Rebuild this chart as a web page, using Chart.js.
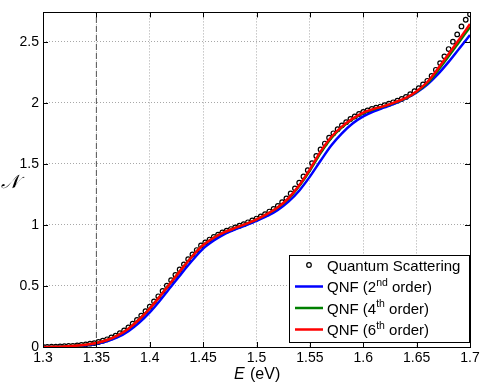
<!DOCTYPE html>
<html><head><meta charset="utf-8">
<script src="https://cdn.jsdelivr.net/npm/chart.js@4/dist/chart.umd.min.js"></script>
<style>html,body{margin:0;padding:0;background:#fff;overflow:hidden;}</style>
</head><body>
<canvas id="c" width="485" height="386"></canvas>
<script>
// Quantum scattering sample energies (eV) and values
const energyQS = [1.300,1.304,1.308,1.312,1.316,1.320,1.324,1.328,1.332,1.336,1.340,1.344,1.348,1.352,1.356,1.360,1.364,1.368,1.372,1.376,1.380,1.384,1.388,1.392,1.396,1.400,1.404,1.408,1.412,1.416,1.420,1.424,1.428,1.432,1.436,1.440,1.444,1.448,1.452,1.456,1.460,1.464,1.468,1.472,1.476,1.480,1.484,1.488,1.492,1.496,1.500,1.504,1.508,1.512,1.516,1.520,1.524,1.528,1.532,1.536,1.540,1.544,1.548,1.552,1.556,1.560,1.564,1.568,1.572,1.576,1.580,1.584,1.588,1.592,1.596,1.600,1.604,1.608,1.612,1.616,1.620,1.624,1.628,1.632,1.636,1.640,1.644,1.648,1.652,1.656,1.660,1.664,1.668,1.672,1.676,1.680,1.684,1.688,1.692,1.696,1.700];
const quantumScattering = [0.000,0.001,0.002,0.003,0.004,0.006,0.008,0.010,0.013,0.017,0.021,0.027,0.032,
0.041,0.051,0.063,0.078,0.093,0.114,0.136,0.161,0.191,0.221,0.257,0.293,
0.331,0.373,0.415,0.459,0.503,0.547,0.591,0.635,0.677,0.719,0.758,0.794,
0.831,0.856,0.880,0.902,0.920,0.938,0.952,0.966,0.980,0.993,1.006,1.021,1.036,
1.052,1.070,1.088,1.109,1.131,1.156,1.186,1.216,1.257,1.299,1.345,1.397,1.448,
1.506,1.564,1.618,1.666,1.714,1.750,1.784,1.815,1.841,1.867,1.888,1.908,
1.925,1.937,1.949,1.959,1.969,1.980,1.992,2.004,2.017,2.031,2.048,2.071,2.095,
2.120,2.150,2.180,2.220,2.270,2.325,2.380,2.440,2.500,2.560,2.625,2.680,2.725];

// QNF model energies (eV)
const energyQNF = [1.30,1.31,1.32,1.33,1.34,1.35,1.36,1.37,1.38,1.39,1.40,1.41,1.42,1.43,1.44,1.45,1.46,1.47,1.48,1.49,1.50,1.51,1.52,1.53,1.54,1.55,1.56,1.57,1.58,1.59,1.60,1.61,1.62,1.63,1.64,1.65,1.66,1.67,1.68,1.69,1.70];
const qnf2nd = [0.000,0.001,0.004,0.008,0.015,0.027,0.047,0.080,0.130,0.198,0.283,0.385,0.495,0.605,0.710,0.805,0.872,0.925,0.963,0.997,1.033,1.073,1.122,1.190,1.280,1.395,1.525,1.650,1.750,1.830,1.888,1.930,1.962,1.995,2.035,2.085,2.150,2.235,2.335,2.445,2.555];
const qnf4th = [0.000,0.002,0.005,0.010,0.019,0.033,0.057,0.095,0.150,0.225,0.315,0.420,0.530,0.640,0.745,0.835,0.895,0.940,0.975,1.008,1.045,1.090,1.143,1.215,1.318,1.445,1.588,1.710,1.798,1.865,1.915,1.947,1.973,2.003,2.037,2.090,2.160,2.265,2.380,2.500,2.620];
const qnf6th = [0.000,0.002,0.005,0.010,0.019,0.033,0.057,0.095,0.150,0.225,0.315,0.420,0.530,0.640,0.745,0.835,0.895,0.940,0.975,1.008,1.045,1.090,1.145,1.220,1.325,1.455,1.600,1.720,1.805,1.870,1.920,1.950,1.975,2.005,2.040,2.095,2.170,2.280,2.400,2.520,2.645];

// threshold marker
const thresholdE = [1.35, 1.35];
const thresholdN = [0, 2.74];

// axes
const xTicks = [1.3,1.35,1.4,1.45,1.5,1.55,1.6,1.65,1.7];
const xTickLabels = ["1.3","1.35","1.4","1.45","1.5","1.55","1.6","1.65","1.7"];
const yTicks = [0,0.5,1,1.5,2,2.5];
const yTickLabels = ["0","0.5","1","1.5","2","2.5"];
const xRange = [1.3, 1.7];
const yRange = [0, 2.74];

// legend texts: [main, superscript, rest]
const legendLabels = [
  ["Quantum Scattering", "", ""],
  ["QNF (2", "nd", " order)"],
  ["QNF (4", "th", " order)"],
  ["QNF (6", "th", " order)"]
];
const xTitle = ["E", "(eV)"];
const yTitle = "\u{1D4A9}";

const FONT = "'Liberation Sans', Arial, Helvetica, sans-serif";
const pts = (xs, ys) => xs.map((x, i) => ({x: x, y: ys[i]}));

const overlay = {
  id: 'overlay',
  afterDatasetsDraw(chart) {
    const ctx = chart.ctx, a = chart.chartArea;
    const xs = chart.scales.x, ys = chart.scales.y;
    ctx.save();
    // box
    ctx.strokeStyle = '#000'; ctx.lineWidth = 1; ctx.setLineDash([]);
    ctx.strokeRect(Math.round(a.left) + 0.5, Math.round(a.top) + 0.5, Math.round(a.right - a.left), Math.round(a.bottom - a.top));
    // inward ticks
    const tl = 5;
    ctx.beginPath();
    xTicks.forEach(v => {
      const px = Math.round(xs.getPixelForValue(v)) + 0.5;
      ctx.moveTo(px, a.bottom); ctx.lineTo(px, a.bottom - tl);
      ctx.moveTo(px, a.top); ctx.lineTo(px, a.top + tl);
    });
    yTicks.forEach(v => {
      const py = Math.round(ys.getPixelForValue(v)) + 0.5;
      ctx.moveTo(a.left, py); ctx.lineTo(a.left + tl, py);
      ctx.moveTo(a.right, py); ctx.lineTo(a.right - tl, py);
    });
    ctx.stroke();

    // legend
    const L = 289.5, T = 255.5, R = 469.5, B = 342.5;
    ctx.fillStyle = '#fff';
    ctx.fillRect(L, T, R - L, B - T);
    ctx.strokeStyle = '#000';
    ctx.strokeRect(L, T, R - L, B - T);
    const ds = chart.data.datasets;
    const rowY = [265, 286.5, 308, 329.5];
    legendLabels.forEach((lab, i) => {
      const d = ds[i];
      const y = rowY[i];
      if (i === 0) {
        ctx.beginPath();
        ctx.arc(309, y, d.pointRadius, 0, Math.PI * 2);
        ctx.strokeStyle = d.pointBorderColor; ctx.lineWidth = d.pointBorderWidth;
        ctx.stroke();
      } else {
        ctx.beginPath();
        ctx.moveTo(295, y); ctx.lineTo(323, y);
        ctx.strokeStyle = d.borderColor; ctx.lineWidth = d.borderWidth;
        ctx.stroke();
      }
      ctx.fillStyle = '#000';
      ctx.textBaseline = 'alphabetic';
      ctx.font = '15px ' + FONT;
      let x = 327;
      const base = y + 5.5;
      ctx.fillText(lab[0], x, base);
      x += ctx.measureText(lab[0]).width;
      if (lab[1]) {
        ctx.font = '10.5px ' + FONT;
        ctx.fillText(lab[1], x, base - 6.5);
        x += ctx.measureText(lab[1]).width;
        ctx.font = '15px ' + FONT;
        ctx.fillText(lab[2], x, base);
      }
    });

    // axis titles
    ctx.fillStyle = '#000';
    ctx.textBaseline = 'alphabetic';
    ctx.font = 'italic 16px ' + FONT;
    ctx.fillText(xTitle[0], 234, 378.5);
    ctx.font = '16px ' + FONT;
    ctx.fillText(xTitle[1], 250, 378.5);
    ctx.font = 'italic 19px "DejaVu Serif", "Liberation Serif", serif';
    ctx.fillText(yTitle, 1, 188);
    ctx.restore();
  }
};

new Chart(document.getElementById('c'), {
  type: 'line',
  data: {
    datasets: [
      { label: 'Quantum Scattering', data: pts(energyQS, quantumScattering), showLine: false,
        pointStyle: 'circle', pointRadius: 2.3, pointBorderWidth: 1.2, pointBorderColor: '#000',
        pointBackgroundColor: 'rgba(0,0,0,0)', borderColor: '#000', borderWidth: 1, order: 4 },
      { label: 'QNF (2nd order)', data: pts(energyQNF, qnf2nd), borderColor: '#0000ff', borderWidth: 2.5,
        pointRadius: 0, cubicInterpolationMode: 'monotone', fill: false, order: 3 },
      { label: 'QNF (4th order)', data: pts(energyQNF, qnf4th), borderColor: '#008000', borderWidth: 2.5,
        pointRadius: 0, cubicInterpolationMode: 'monotone', fill: false, order: 2 },
      { label: 'QNF (6th order)', data: pts(energyQNF, qnf6th), borderColor: '#ff0000', borderWidth: 2.5,
        pointRadius: 0, cubicInterpolationMode: 'monotone', fill: false, order: 1 },
      { label: 'threshold', data: pts(thresholdE, thresholdN), borderColor: '#555555', borderWidth: 1,
        borderDash: [6, 3], pointRadius: 0, fill: false, order: 5 }
    ]
  },
  options: {
    responsive: false,
    devicePixelRatio: 1,
    animation: false,
    layout: { padding: { top: 11, right: 15, left: 0, bottom: 0 } },
    plugins: { legend: { display: false }, tooltip: { enabled: false } },
    scales: {
      x: {
        type: 'linear', min: xRange[0], max: xRange[1],
        afterBuildTicks: s => { s.ticks = xTicks.map(v => ({ value: v })); },
        afterFit: s => { s.height = 39; },
        ticks: { callback: (v, i) => xTickLabels[i], color: '#000', font: { family: FONT, size: 14 },
                 padding: 3, maxRotation: 0, autoSkip: false },
        grid: { color: '#a8a8a8', lineWidth: 1, drawTicks: false },
        border: { display: false, dash: [1, 2] }
      },
      y: {
        type: 'linear', min: yRange[0], max: yRange[1],
        afterBuildTicks: s => { s.ticks = yTicks.map(v => ({ value: v })); },
        afterFit: s => { s.width = 43; },
        ticks: { callback: (v, i) => yTickLabels[i], color: '#000', font: { family: FONT, size: 14 },
                 padding: 4, autoSkip: false },
        grid: { color: '#a8a8a8', lineWidth: 1, drawTicks: false },
        border: { display: false, dash: [1, 2] }
      }
    }
  },
  plugins: [overlay]
});
</script>
</body></html>
